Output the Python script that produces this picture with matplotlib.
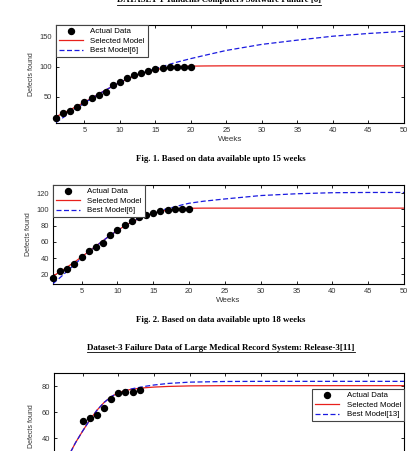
import matplotlib
matplotlib.use("Agg")
import matplotlib.pyplot as plt
from matplotlib.lines import Line2D

# ---------------- data ----------------
weeks = list(range(1, 21))
defects = [16, 24, 27, 33, 41, 49, 54, 58, 69, 75, 81, 86, 90, 93, 96, 98, 99, 100, 100, 100]

model_x = [1, 2, 3, 4, 5, 6, 7, 8, 9, 10, 11, 12, 13, 14, 15, 16, 17, 18, 19, 20,
           22, 25, 30, 35, 40, 45, 50]
sel1 = [17.5, 23, 29, 35, 41.5, 48, 55, 61.5, 68, 74, 79.5, 84.5, 88.5, 92, 95, 97.5, 99, 100, 100.7, 101,
        101.3, 101.5, 101.5, 101.5, 101.5, 101.5, 101.5]
best1 = [8, 16, 24, 32, 40, 47.5, 54.5, 61.5, 68, 74, 79.5, 84.5, 89, 93, 97, 100.5, 104, 107.5, 110.5, 113.5,
         119, 127, 137, 144, 150.5, 155, 158.5]
sel2 = [17.8, 23, 29, 35, 41.5, 48, 55, 61.5, 68, 74, 79.5, 84.5, 88.5, 92, 95, 97.5, 99, 100.3, 101, 101.3,
        101.5, 101.5, 101.5, 101.5, 101.5, 101.5, 101.5]
best2 = [8.5, 16, 24, 32, 40, 47.5, 54.5, 61.5, 68, 74, 79.5, 84.5, 89, 92.5, 95.5, 98.5, 101, 103, 105.5, 107.5,
         110, 112.8, 117, 119.2, 120.5, 120.8, 120.8]

weeks3 = [5, 6, 7, 8, 9, 10, 11, 12, 13]
defects3 = [53, 56, 58, 63, 70, 75, 76, 76, 77]
model3_x = [2, 3, 4, 5, 6, 7, 8, 9, 10, 11, 12, 13, 14, 15, 17, 20, 25, 30, 40, 50]
sel3 = [15, 26, 36.5, 45.5, 54, 61.5, 67.5, 72, 75, 76.8, 77.8, 78.5, 79.0, 79.4, 79.9, 80.3, 80.5, 80.5, 80.5, 80.5]
best3 = [15, 26, 36.5, 45.5, 54, 61.5, 67.5, 72, 75, 77, 78.2, 79.2, 80.2, 81, 82.2, 83.2, 83.7, 83.8, 83.8, 83.8]

labels1 = ["Actual Data", "Selected Model", "Best Model[6]"]
labels3 = ["Actual Data", "Selected Model", "Best Model[13]"]
xticks = [5, 10, 15, 20, 25, 30, 35, 40, 45, 50]

title1 = "DATASET-1 Tandems Computers Software Failure [6]"
cap1 = "Fig. 1. Based on data available upto 15 weeks"
cap2 = "Fig. 2. Based on data available upto 18 weeks"
title3 = "Dataset-3 Failure Data of Large Medical Record System: Release-3[11]"

# ---------------- figure ----------------
W, H = 414, 451
fig = plt.figure(figsize=(W / 100, H / 100), dpi=100)
fig.patch.set_facecolor("white")

SANS = ["Liberation Sans", "DejaVu Sans"]
SERIF = ["Liberation Serif", "DejaVu Serif"]


def px_rect(left, top, right, bottom):
    return [left / W, 1 - bottom / H, (right - left) / W, (bottom - top) / H]


def style_axes(ax, yticks, show_x=True):
    ax.set_xticks(xticks)
    ax.set_yticks(yticks)
    ax.tick_params(direction="in", top=True, right=True, length=2.5, width=0.6,
                   labelsize=5.4, labelcolor="#333333", pad=3)
    if not show_x:
        ax.tick_params(labelbottom=False)
    for lab in ax.get_xticklabels() + ax.get_yticklabels():
        lab.set_family(SANS)
    for sp in ax.spines.values():
        sp.set_linewidth(0.8)
        sp.set_color("black")


def draw(ax, x, y, mx, sel, best, labels, legend_kw):
    ax.plot(x, y, "o", color="black", markersize=4.3, clip_on=False, zorder=5, label=labels[0])
    ax.plot(mx, sel, "-", color="#e8201c", lw=0.9, label=labels[1], zorder=3)
    ax.plot(mx, best, "--", color="#1a1ae0", lw=0.9, dashes=(4, 2), label=labels[2], zorder=4)
    leg = ax.legend(prop={"family": SANS, "size": 5.7}, fancybox=False, framealpha=1,
                    edgecolor="#444444", handlelength=3.0, handletextpad=1.0,
                    borderpad=0.35, labelspacing=0.25, **legend_kw)
    leg.get_frame().set_linewidth(0.8)
    leg.set_zorder(10)
    return leg


# Axes 1
ax1 = fig.add_axes(px_rect(56, 25, 404, 123))
draw(ax1, weeks, defects, model_x, sel1, best1, labels1,
     dict(loc="upper left", borderaxespad=0))
ax1.set_xlim(1, 50)
ax1.set_ylim(7, 169)
style_axes(ax1, [50, 100, 150])
ax1.set_xlabel("Weeks", family=SANS, fontsize=5.8, color="#333333", labelpad=1.5)
ax1.set_ylabel("Defects found", family=SANS, fontsize=5.0, color="#333333", labelpad=3)

# Axes 2
ax2 = fig.add_axes(px_rect(53, 185, 404, 284))
draw(ax2, weeks, defects, model_x, sel2, best2, labels1,
     dict(loc="upper left", borderaxespad=0))
ax2.set_xlim(1, 50)
ax2.set_ylim(8, 130)
style_axes(ax2, [20, 40, 60, 80, 100, 120])
ax2.set_xlabel("Weeks", family=SANS, fontsize=5.8, color="#333333", labelpad=1.5)
ax2.set_ylabel("Defects found", family=SANS, fontsize=5.0, color="#333333", labelpad=3)

# Axes 3 (cut off at bottom of the page)
ax3 = fig.add_axes(px_rect(54, 373.3, 404, 490.3))
draw(ax3, weeks3, defects3, model3_x, sel3, best3, labels3,
     dict(loc="upper right", bbox_to_anchor=(404 / W, 1 - 389 / H),
          bbox_transform=fig.transFigure, borderaxespad=0))
ax3.set_xlim(1, 50)
ax3.set_ylim(0, 90)
style_axes(ax3, [40, 60, 80], show_x=False)
ax3.set_ylabel("Defects found", family=SANS, fontsize=5.0, color="#333333", labelpad=3)
ax3.yaxis.set_label_coords(-0.055, 0.55)

# ---------------- page texts ----------------
texts = []
texts.append((fig.text(219 / W, 1 - 0.5 / H, title1, ha="center", va="center", family=SERIF,
                       fontsize=6.3, weight="bold"), True))
texts.append((fig.text(221 / W, 1 - 159 / H, cap1, ha="center", va="center", family=SERIF,
                       fontsize=6.3, weight="bold"), False))
texts.append((fig.text(221 / W, 1 - 320.5 / H, cap2, ha="center", va="center", family=SERIF,
                       fontsize=6.3, weight="bold"), False))
texts.append((fig.text(221 / W, 1 - 347.5 / H, title3, ha="center", va="center", family=SERIF,
                       fontsize=6.4, weight="bold"), True))

fig.canvas.draw()
renderer = fig.canvas.get_renderer()
for t, underline in texts:
    if underline:
        bb = t.get_window_extent(renderer)
        y = bb.y0 - 0.5
        fig.add_artist(Line2D([bb.x0 / W, bb.x1 / W], [y / H, y / H],
                              transform=fig.transFigure, color="black", lw=0.6))

fig.savefig("out.png", dpi=100, facecolor="white")
